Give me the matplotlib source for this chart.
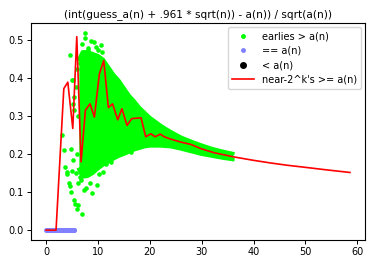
import matplotlib
matplotlib.use("Agg")
import matplotlib.pyplot as plt
from matplotlib.lines import Line2D

plt.rcParams['font.family'] = ['DejaVu Sans']
plt.rcParams['font.size'] = 7

title = "(int(guess_a(n) + .961 * sqrt(n)) - a(n)) / sqrt(a(n))"

# dense green band (envelope)
band_x = [6.3, 7, 8, 9, 10, 11, 12, 13, 14, 15, 16, 17, 18, 19, 20, 21, 22, 23, 24, 26, 28, 30, 32, 34, 36]
band_hi = [0.45, 0.47, 0.47, 0.465, 0.46, 0.45, 0.43, 0.41, 0.395, 0.375, 0.355, 0.34, 0.323, 0.31,
           0.297, 0.287, 0.277, 0.268, 0.26, 0.245, 0.234, 0.224, 0.215, 0.208, 0.202]
band_lo = [0.16, 0.14, 0.142, 0.15, 0.162, 0.172, 0.18, 0.188, 0.195, 0.2, 0.206, 0.212, 0.216, 0.22,
           0.222, 0.222, 0.222, 0.221, 0.22, 0.214, 0.207, 0.2, 0.195, 0.19, 0.186]

# scattered green points
green_x = [4.68, 7.56, 7.5, 8.65, 9.17, 10.58, 9.6, 8.15, 6.54, 5.9, 5.26, 5.77, 5.45, 5.13, 5.32,
           3.01, 3.4, 4.81, 5.13, 3.72, 3.97, 4.04, 4.49, 4.68, 4.81, 5.45, 5.64, 5.96, 6.92, 6.22,
           5.77, 6.6, 6.73, 6.1, 7.37, 7.69, 8.53, 8.85, 9.81, 10.26, 10.9, 11.54, 12.5, 7.56, 8.33,
           9.29, 16.35, 5.06, 4.9, 6.9, 8.0, 9.9, 10.8, 6.0, 6.2]
green_y = [0.461, 0.519, 0.507, 0.498, 0.496, 0.489, 0.484, 0.474, 0.44, 0.425, 0.395, 0.377, 0.351,
           0.333, 0.316, 0.25, 0.21, 0.215, 0.184, 0.167, 0.153, 0.148, 0.123, 0.116, 0.1, 0.079,
           0.07, 0.055, 0.042, 0.066, 0.15, 0.14, 0.132, 0.123, 0.105, 0.11, 0.123, 0.097, 0.119,
           0.149, 0.153, 0.175, 0.18, 0.153, 0.158, 0.158, 0.206, 0.396, 0.156, 0.49, 0.48, 0.475, 0.47,
           0.2, 0.3]

# blue points (== a(n))
blue_x = [0.0, 0.1, 0.2, 0.3, 0.45, 0.6, 0.7, 0.85, 0.95, 1.1, 1.2, 1.35, 1.45, 1.6, 1.7, 1.85,
          1.95, 2.1, 2.2, 2.35, 2.45, 2.6, 2.7, 2.85, 2.95, 3.1, 3.2, 3.35, 3.45, 3.6, 3.7, 3.85,
          3.95, 4.1, 4.2, 4.35, 4.45, 4.6, 4.7, 4.85, 4.95, 5.1, 5.2, 5.35, 5.45]
blue_y = [0.0] * len(blue_x)

# red line: near-2^k's >= a(n)
red_x = [0, 1, 1.9, 3.4, 4.17, 5.13, 5.9, 6.73, 7.56, 8.46, 9.3, 10.26, 11.1, 12.0, 12.8, 13.8,
         14.6, 15.6, 16.5, 18.3, 19.2, 20.2, 21.0, 22.0, 22.8, 24.0, 26.0, 27.9, 29.8, 32.4, 36.2,
         40.0, 43.3, 46.5, 49.7, 54.0, 58.6]
red_y = [0, 0, 0, 0.373, 0.39, 0.268, 0.51, 0.18, 0.316, 0.333, 0.298, 0.412, 0.447, 0.323, 0.333,
         0.291, 0.32, 0.276, 0.294, 0.296, 0.246, 0.254, 0.246, 0.253, 0.246, 0.24, 0.232, 0.226,
         0.215, 0.204, 0.193, 0.184, 0.177, 0.171, 0.166, 0.159, 0.152]

fig = plt.figure(figsize=(3.72, 2.64), dpi=100)
ax = fig.add_axes([31/372, 24/264, 334/372, 217/264])

ax.fill_between(band_x, band_lo, band_hi, color='lime', lw=0, zorder=2)
ax.plot(band_x, band_hi, color='lime', lw=2.5, zorder=2)
ax.plot(band_x, band_lo, color='lime', lw=2.5, zorder=2)
ax.plot(green_x, green_y, 'o', color='lime', ms=3.3, mew=0, zorder=2)
ax.plot(blue_x, blue_y, 'o', color='#8080ff', ms=3.5, mew=0, zorder=3)
ax.plot(red_x, red_y, color='red', lw=1.2, zorder=4)

ax.set_xlim(-2.93, 61.5)
ax.set_ylim(-0.026, 0.546)
ax.set_xticks([0, 10, 20, 30, 40, 50, 60])
ax.set_yticks([0.0, 0.1, 0.2, 0.3, 0.4, 0.5])
ax.set_title(title, fontsize=7.6, pad=4)
ax.tick_params(length=3, width=0.7, labelsize=7, pad=2)
for s in ax.spines.values():
    s.set_linewidth(0.8)

handles = [
    Line2D([], [], ls='none', marker='.', color='lime', ms=5),
    Line2D([], [], ls='none', marker='.', color='#8080ff', ms=5),
    Line2D([], [], ls='none', marker='o', color='black', ms=4),
    Line2D([], [], color='red', lw=1.2),
]
labels = ["earlies > a(n)", "== a(n)", "< a(n)", "near-2^k's >= a(n)"]
ax.legend(handles, labels, loc='upper right', fontsize=7, handlelength=2.2,
          borderpad=0.45, labelspacing=0.45, handletextpad=0.8, borderaxespad=0.4)

fig.savefig("out.png", dpi=100)
